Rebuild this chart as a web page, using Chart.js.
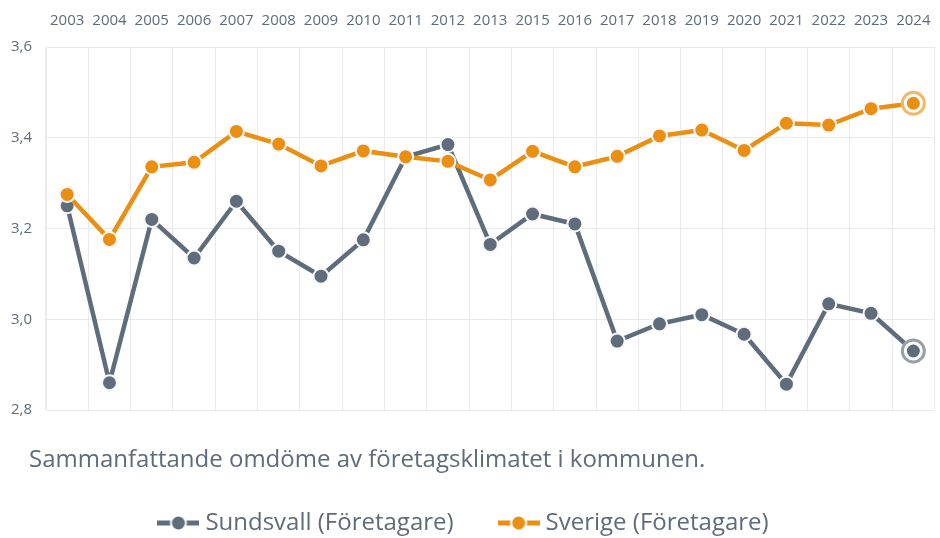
<!DOCTYPE html>
<html>
<head>
<meta charset="utf-8">
<script src="https://cdn.jsdelivr.net/npm/chart.js@4/dist/chart.umd.min.js"></script>
<style>
html,body{margin:0;padding:0;background:#fff;overflow:hidden;width:940px;height:538px;}
#wrap{position:absolute;left:0;top:0;width:944px;height:556px;}
</style>
</head>
<body>
<div id="wrap"><canvas id="c" width="944" height="556"></canvas></div>
<script>
const categories = ['2003','2004','2005','2006','2007','2008','2009','2010','2011','2012','2013','2015','2016','2017','2018','2019','2020','2021','2022','2023','2024'];
const sundsvall = [3.25,2.86,3.22,3.135,3.26,3.15,3.095,3.175,3.358,3.385,3.165,3.232,3.21,2.952,2.99,3.01,2.967,2.857,3.034,3.013,2.93];
const sverige   = [3.275,3.176,3.336,3.346,3.414,3.386,3.338,3.371,3.358,3.348,3.307,3.37,3.336,3.359,3.404,3.417,3.372,3.432,3.428,3.464,3.476];
const seriesNames = ['Sundsvall (Företagare)','Sverige (Företagare)'];
const yTicks = [2.8,3.0,3.2,3.4,3.6];
const titleText = 'Sammanfattande omdöme av företagsklimatet i kommunen.';

const GRAY = '#5f6c7b';
const ORANGE = '#eb8f12';
const GRAY_RING = 'rgba(95,108,123,0.65)';
const ORANGE_RING = 'rgba(235,143,18,0.65)';
const TEXT = '#5f6b7a';
const GRID = '#e8eaed';
const FONT = "'Open Sans', sans-serif";

function makeMarker(color){
  const c = document.createElement('canvas');
  c.width = 42; c.height = 18;
  const g = c.getContext('2d');
  g.strokeStyle = color; g.lineWidth = 5;
  g.beginPath(); g.moveTo(0,9); g.lineTo(42,9); g.stroke();
  g.beginPath(); g.arc(21,9,8.5,0,Math.PI*2); g.fillStyle='#fff'; g.fill();
  g.beginPath(); g.arc(21,9,6.5,0,Math.PI*2); g.fillStyle=color; g.fill();
  return c;
}
const markers = [makeMarker(GRAY), makeMarker(ORANGE)];

const ringPlugin = {
  id: 'lastRing',
  afterDatasetsDraw(chart){
    const ctx = chart.ctx;
    [0,1].forEach(i=>{
      const ds = chart.data.datasets[i];
      const meta = chart.getDatasetMeta(i);
      const pt = meta.data[meta.data.length-1];
      if(!pt) return;
      ctx.save();
      ctx.beginPath(); ctx.arc(pt.x, pt.y, 12.5, 0, Math.PI*2); ctx.fillStyle='#fff'; ctx.fill();
      ctx.beginPath(); ctx.arc(pt.x, pt.y, 11, 0, Math.PI*2); ctx.lineWidth=3; ctx.strokeStyle=ds.ringColor; ctx.stroke();
      ctx.beginPath(); ctx.arc(pt.x, pt.y, 6.5, 0, Math.PI*2); ctx.fillStyle=ds.borderColor; ctx.fill();
      ctx.restore();
    });
  }
};

const shiftPlugin = {
  id: 'shiftBlocks',
  afterLayout(chart){
    const t = chart.titleBlock;
    if (t) { t.left += 29; t.right += 29; }
    const l = chart.legend;
    if (l) { l.left -= 6; l.right -= 6; l.top -= 11; l.bottom -= 11; }
  }
};

new Chart(document.getElementById('c'), {
  type: 'line',
  data: {
    labels: categories,
    datasets: [
      {label: seriesNames[0], data: sundsvall, borderColor: GRAY, backgroundColor: GRAY,
       pointBackgroundColor: GRAY, pointBorderColor: '#f7f8fa', pointBorderWidth: 2, pointRadius: 7.5,
       borderWidth: 4.5, tension: 0, order: 1, ringColor: GRAY_RING, marker: markers[0]},
      {label: seriesNames[1], data: sverige, borderColor: ORANGE, backgroundColor: ORANGE,
       pointBackgroundColor: ORANGE, pointBorderColor: '#f7f8fa', pointBorderWidth: 2, pointRadius: 7.5,
       borderWidth: 4.5, tension: 0, order: 0, ringColor: ORANGE_RING, marker: markers[1]}
    ]
  },
  options: {
    responsive: false,
    animation: false,
    layout: {padding: 0},
    plugins: {
      tooltip: {enabled: false},
      title: {
        display: true, text: titleText, position: 'bottom', align: 'start', weight: 500,
        color: TEXT, font: {family: FONT, size: 24, weight: 'normal', lineHeight: 1},
        padding: {top: 38, bottom: 0}
      },
      legend: {
        display: true, position: 'bottom', align: 'center', weight: 1000,
        labels: {
          color: TEXT, font: {family: FONT, size: 24}, padding: 50,
          usePointStyle: true, pointStyleWidth: 30,
          sort: (a,b)=>a.datasetIndex-b.datasetIndex,
          generateLabels(chart){
            return chart.data.datasets.map((ds,i)=>({
              text: ds.label, datasetIndex: i, pointStyle: ds.marker,
              fillStyle: ds.borderColor, strokeStyle: ds.borderColor, lineWidth: 0,
              fontColor: TEXT, hidden: false
            }));
          }
        }
      }
    },
    scales: {
      x: {
        position: 'top', offset: true,
        grid: {offset: true, color: GRID, drawTicks: false, lineWidth: 1},
        border: {color: GRID},
        ticks: {color: TEXT, font: {family: FONT, size: 15}, autoSkip: false, maxRotation: 0, padding: 17},
        afterFit(s){ s.height = 47; s.paddingLeft = 0; s.paddingRight = 0; }
      },
      y: {
        min: 2.8, max: 3.6,
        afterBuildTicks(s){ s.ticks = yTicks.map(v=>({value: v})); },
        grid: {color: GRID, drawTicks: false, lineWidth: 1},
        border: {color: GRID},
        ticks: {color: TEXT, font: {family: FONT, size: 15}, padding: 14,
                callback: v => Number(v).toFixed(1).replace('.', ',')},
        afterFit(s){ s.width = 46; s.paddingTop = 0; s.paddingBottom = 0; }
      }
    }
  },
  plugins: [ringPlugin, shiftPlugin]
});
</script>
</body>
</html>
